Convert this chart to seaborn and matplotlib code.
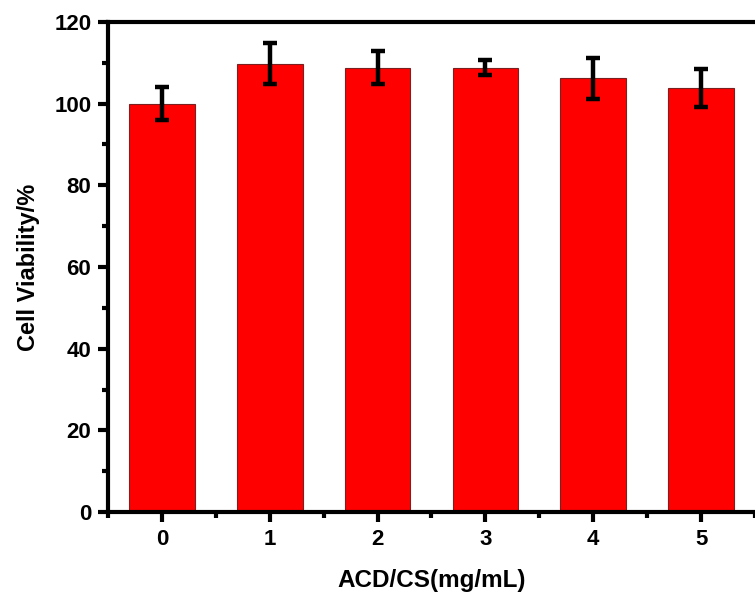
import matplotlib
matplotlib.use("Agg")
import matplotlib.pyplot as plt
import seaborn as sns
import pandas as pd
from matplotlib.ticker import MultipleLocator

concentrations = ["0", "1", "2", "3", "4", "5"]
viability = [100.0, 109.8, 108.8, 108.8, 106.2, 103.9]
errors = [4.0, 5.0, 4.0, 1.8, 5.0, 4.7]

sns.set_style("ticks")
plt.rcParams['font.family'] = ['Liberation Sans', 'DejaVu Sans']
plt.rcParams['font.weight'] = 'bold'
plt.rcParams['text.color'] = 'black'
plt.rcParams['axes.labelcolor'] = 'black'
plt.rcParams['xtick.color'] = 'black'
plt.rcParams['ytick.color'] = 'black'

df = pd.DataFrame({"conc": concentrations, "via": viability})

fig = plt.figure(figsize=(7.55, 5.94), dpi=100)
ax = fig.add_axes([0.143, 0.138, 0.857, 0.825])

sns.barplot(data=df, x="conc", y="via", color="#ff0000", saturation=1,
            width=0.61, edgecolor="#7a2020", linewidth=0.8, ax=ax)

xpos = [p.get_x() + p.get_width() / 2 for p in ax.patches]
ax.errorbar(xpos, viability, yerr=errors, fmt="none", ecolor="black",
            elinewidth=3.2, capsize=5, capthick=3.2, zorder=5)

ax.set_ylim(0, 120)
ax.set_xlim(-0.48, 5.42)
ax.yaxis.set_major_locator(MultipleLocator(20))
ax.yaxis.set_minor_locator(MultipleLocator(10))
ax.set_xticks(range(len(concentrations)))
ax.set_xticks([i + 0.5 for i in range(-1, len(concentrations))], minor=True)

for s in ["left", "bottom", "top"]:
    ax.spines[s].set_linewidth(3)
    ax.spines[s].set_color("black")
ax.spines["right"].set_visible(False)

ax.tick_params(axis="both", which="major", direction="out", length=7, width=3,
               labelsize=16, pad=5, colors="black")
ax.tick_params(axis="both", which="minor", direction="out", length=4, width=3,
               colors="black")
ax.tick_params(axis="x", which="both", top=False)
ax.tick_params(axis="y", which="both", right=False)
for lbl in ax.get_xticklabels() + ax.get_yticklabels():
    lbl.set_fontweight("bold")

ax.set_xlabel("ACD/CS(mg/mL)", fontsize=17.5, fontweight="bold", labelpad=14)
ax.set_ylabel("Cell Viability/%", fontsize=17, fontweight="bold", labelpad=10)

fig.savefig("out.png", dpi=100)
